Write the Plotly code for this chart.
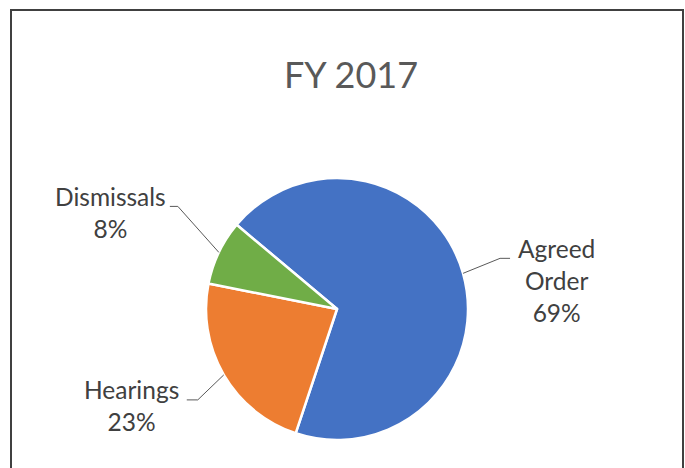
import math
import plotly.graph_objects as go

# ---- data ----
categories = ["Agreed Order", "Hearings", "Dismissals"]
values = [69, 23, 8]
label_lines = [["Agreed", "Order"], ["Hearings"], ["Dismissals"]]
colors = ["#4472C4", "#ED7D31", "#70AD47"]
title_text = "FY 2017"

# ---- layout constants (pixels) ----
W, H = 685, 468
CX, CY, R = 337, 309, 131
ROTATION = -50  # start angle of first slice, clockwise from 12 o'clock
FONT = "Lato"
LABEL_SIZE = 24.5
# per-slice leader-line elbow offsets, tail length, text gap
leader = [
    dict(elbow=(37, -15), tail=10, side="left", gap=6),
    dict(elbow=(-26, 25), tail=-11, side="right", gap=6),
    dict(elbow=(-41, -46), tail=-8, side="right", gap=2),
]


def px(x):
    return x / W


def py(y):
    return 1 - y / H


fig = go.Figure(
    go.Pie(
        labels=categories,
        values=values,
        sort=False,
        direction="clockwise",
        rotation=ROTATION,
        marker=dict(colors=colors, line=dict(color="white", width=2.5)),
        textinfo="none",
        hoverinfo="label+percent",
        showlegend=False,
        domain=dict(x=[px(CX - R), px(CX + R)], y=[py(CY + R), py(CY - R)]),
    )
)

total = sum(values)
shapes = []
annotations = []
cum = 0.0
for i, v in enumerate(values):
    frac = v / total
    mid = math.radians(ROTATION + 360 * (cum + frac / 2))
    cum += frac
    ax = CX + R * math.sin(mid)
    ay = CY - R * math.cos(mid)
    cfg = leader[i]
    ex, ey = ax + cfg["elbow"][0], ay + cfg["elbow"][1]
    tx = ex + cfg["tail"]
    shapes.append(dict(
        type="path", xref="paper", yref="paper",
        path=f"M {px(ax)} {py(ay)} L {px(ex)} {py(ey)} L {px(tx)} {py(ey)}",
        line=dict(color="#595959", width=1),
    ))
    pct = f"{round(frac * 100)}%"
    text = "<br>".join(label_lines[i] + [pct])
    if cfg["side"] == "left":
        xa, xpos = "left", tx + cfg["gap"]
    else:
        xa, xpos = "right", tx - cfg["gap"]
    annotations.append(dict(
        text=text, xref="paper", yref="paper",
        x=px(xpos), y=py(ey - 1.08 * LABEL_SIZE),
        xanchor=xa, yanchor="top", align="center", showarrow=False,
        font=dict(family=FONT, size=LABEL_SIZE, color="#404040"),
    ))

# chart-area border
shapes.append(dict(
    type="rect", xref="paper", yref="paper",
    x0=px(11), x1=px(683), y0=py(H + 20), y1=py(10),
    line=dict(color="#404040", width=2), fillcolor="rgba(0,0,0,0)",
))

fig.update_layout(
    width=W, height=H,
    margin=dict(l=0, r=0, t=0, b=0),
    paper_bgcolor="white", plot_bgcolor="white",
    title=dict(text=title_text, x=px(351), xanchor="center",
               y=py(75), yanchor="middle", yref="container",
               font=dict(family=FONT, size=36, color="#595959")),
    shapes=shapes, annotations=annotations,
)

fig.write_html(
    "out.html",
    config={"displayModeBar": False},
    post_script="document.body.style.margin='0';document.body.style.overflow='hidden';",
)
